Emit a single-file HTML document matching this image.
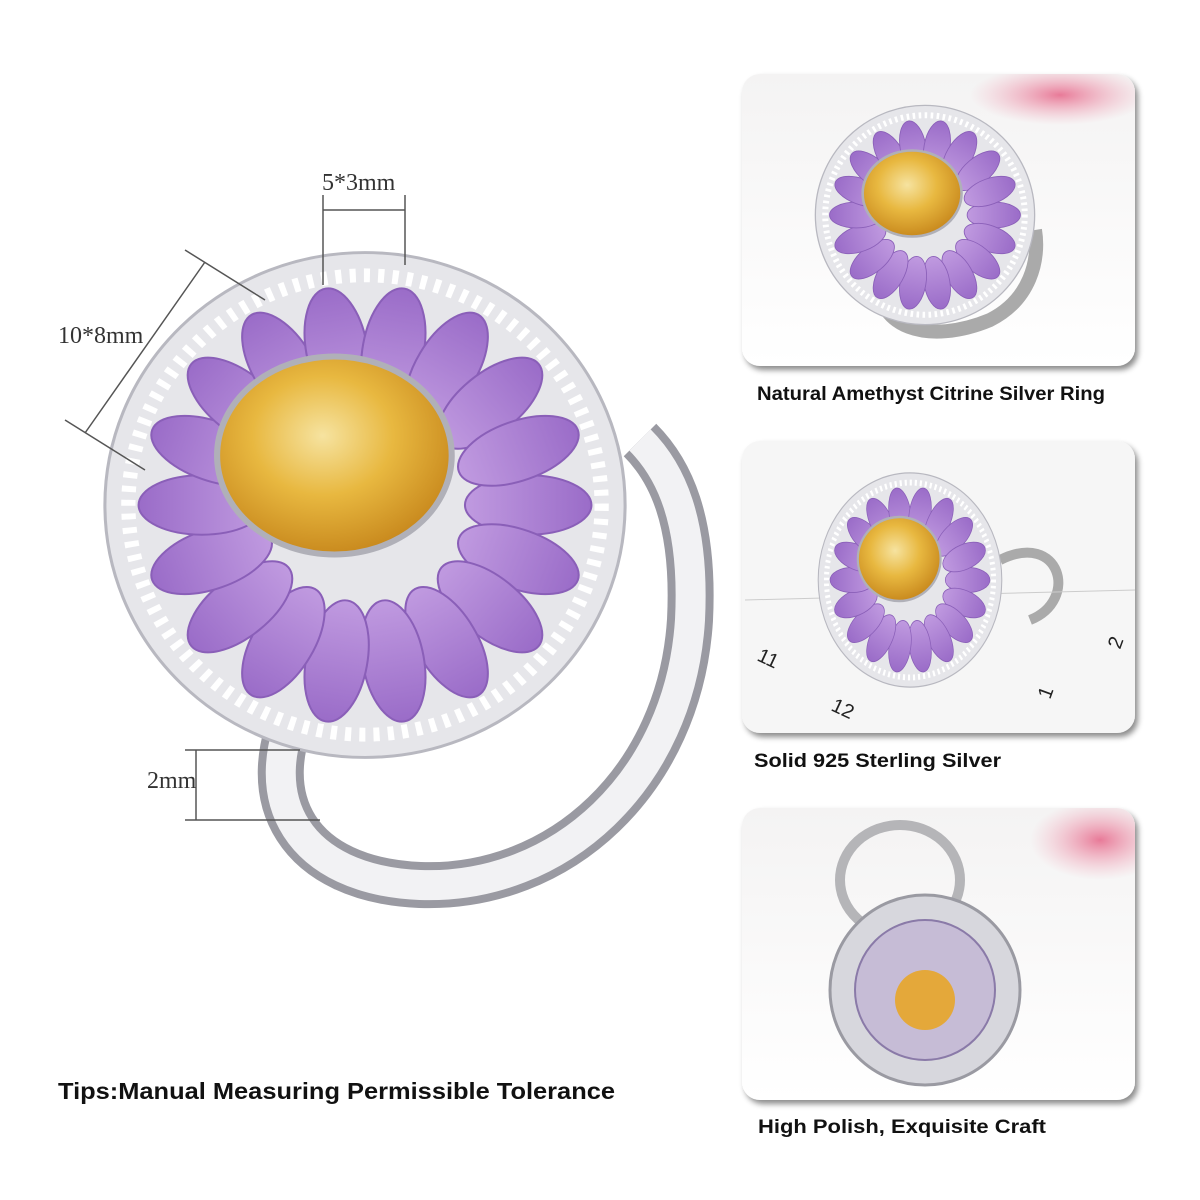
<!DOCTYPE html>
<html><head><meta charset="utf-8"><style>
html,body{margin:0;padding:0;background:#fff;}
svg{display:block;}
text{font-family:"Liberation Sans",sans-serif;}
</style></head><body>
<svg width="1200" height="1200" viewBox="0 0 1200 1200" xmlns="http://www.w3.org/2000/svg">
<defs>
<radialGradient id="cit" cx="45%" cy="40%" r="60%"><stop offset="0" stop-color="#f6e3a0"/><stop offset="0.5" stop-color="#e8b840"/><stop offset="1" stop-color="#c98a1e"/></radialGradient>
<linearGradient id="pet" x1="0" y1="0" x2="1" y2="0"><stop offset="0" stop-color="#c09ae0"/><stop offset="1" stop-color="#9a6cc8"/></linearGradient>
<linearGradient id="pan" x1="0" y1="0" x2="0" y2="1"><stop offset="0" stop-color="#f4f3f3"/><stop offset="1" stop-color="#ffffff"/></linearGradient>
<radialGradient id="pink" cx="50%" cy="50%" r="50%"><stop offset="0" stop-color="#e87a98"/><stop offset="1" stop-color="#f2b0c0" stop-opacity="0"/></radialGradient>
<clipPath id="c1"><rect x="742" y="74" width="393" height="292" rx="18"/></clipPath>
<clipPath id="c3"><rect x="742" y="808" width="393" height="292" rx="18"/></clipPath>
<filter id="sh" x="-5%" y="-5%" width="115%" height="115%"><feDropShadow dx="3" dy="4" stdDeviation="3" flood-color="#000" flood-opacity="0.45"/></filter>
<g id="flower">
  <circle cx="0" cy="0" r="255" fill="#e6e6ea" stroke="#b8b8c0" stroke-width="3"/>
  <circle cx="0" cy="0" r="232" fill="none" stroke="#fff" stroke-width="14" stroke-dasharray="6 8"/>
  <g fill="url(#pet)" stroke="#8a5fb8" stroke-width="2">
    <ellipse cx="160" cy="0" rx="62" ry="30" transform="rotate(0)"/>
    <ellipse cx="160" cy="0" rx="62" ry="30" transform="rotate(20)"/>
    <ellipse cx="160" cy="0" rx="62" ry="30" transform="rotate(40)"/>
    <ellipse cx="160" cy="0" rx="62" ry="30" transform="rotate(60)"/>
    <ellipse cx="160" cy="0" rx="62" ry="30" transform="rotate(80)"/>
    <ellipse cx="160" cy="0" rx="62" ry="30" transform="rotate(100)"/>
    <ellipse cx="160" cy="0" rx="62" ry="30" transform="rotate(120)"/>
    <ellipse cx="160" cy="0" rx="62" ry="30" transform="rotate(140)"/>
    <ellipse cx="160" cy="0" rx="62" ry="30" transform="rotate(160)"/>
    <ellipse cx="160" cy="0" rx="62" ry="30" transform="rotate(180)"/>
    <ellipse cx="160" cy="0" rx="62" ry="30" transform="rotate(200)"/>
    <ellipse cx="160" cy="0" rx="62" ry="30" transform="rotate(220)"/>
    <ellipse cx="160" cy="0" rx="62" ry="30" transform="rotate(240)"/>
    <ellipse cx="160" cy="0" rx="62" ry="30" transform="rotate(260)"/>
    <ellipse cx="160" cy="0" rx="62" ry="30" transform="rotate(280)"/>
    <ellipse cx="160" cy="0" rx="62" ry="30" transform="rotate(300)"/>
    <ellipse cx="160" cy="0" rx="62" ry="30" transform="rotate(320)"/>
    <ellipse cx="160" cy="0" rx="62" ry="30" transform="rotate(340)"/>
  </g>
  <ellipse cx="-30" cy="-50" rx="115" ry="100" fill="url(#cit)" stroke="#b0b0b8" stroke-width="6"/>
</g>
</defs>

<path d="M300 700 C250 800 300 880 420 885 C560 890 680 780 690 620 C695 520 670 470 640 440" fill="none" stroke="#9a9aa2" stroke-width="46"/>
<path d="M300 700 C250 800 300 880 420 885 C560 890 680 780 690 620 C695 520 670 470 640 440" fill="none" stroke="#f2f2f4" stroke-width="30"/>
<use href="#flower" transform="translate(365,505) scale(1.02,0.99)"/>

<g stroke="#555" stroke-width="1.5" fill="none">
  <line x1="323" y1="195" x2="323" y2="285"/><line x1="405" y1="195" x2="405" y2="265"/>
  <line x1="323" y1="210" x2="405" y2="210"/>
  <line x1="185" y1="250" x2="265" y2="300"/><line x1="65" y1="420" x2="145" y2="470"/>
  <line x1="205" y1="262" x2="85" y2="433"/>
  <line x1="185" y1="750" x2="300" y2="750"/><line x1="185" y1="820" x2="320" y2="820"/>
  <line x1="196" y1="750" x2="196" y2="820"/>
</g>
<g font-size="24" fill="#333">
<text x="322" y="190" style="font-family:'Liberation Serif',serif">5*3mm</text>
<text x="58" y="343" style="font-family:'Liberation Serif',serif">10*8mm</text>
<text x="147" y="788" style="font-family:'Liberation Serif',serif">2mm</text>
</g>

<text x="58" y="1099" font-size="23" font-weight="bold" fill="#111" textLength="557" lengthAdjust="spacingAndGlyphs">Tips:Manual Measuring Permissible Tolerance</text>

<g filter="url(#sh)">
<rect x="742" y="74" width="393" height="292" rx="18" fill="url(#pan)"/>
<rect x="742" y="441" width="393" height="292" rx="18" fill="#f6f6f6"/>
<rect x="742" y="808" width="393" height="292" rx="18" fill="url(#pan)"/>
</g>
<ellipse cx="1060" cy="95" rx="90" ry="30" fill="url(#pink)" clip-path="url(#c1)"/>
<ellipse cx="1100" cy="840" rx="70" ry="40" fill="url(#pink)" clip-path="url(#c3)"/>

<path d="M880 270 C870 330 930 345 990 320 C1030 300 1040 260 1035 230" fill="none" stroke="#aaa" stroke-width="14"/>
<use href="#flower" transform="translate(925,215) scale(0.43)"/>
<path d="M1000 560 C1060 530 1080 600 1030 620" fill="none" stroke="#aaa" stroke-width="10"/>
<path d="M745 600 L1135 590" stroke="#ccc" stroke-width="1"/>
<g font-size="20" fill="#222">
<text x="756" y="660" transform="rotate(25 756 660)">11</text>
<text x="830" y="710" transform="rotate(25 830 710)">12</text>
<text x="1050" y="700" transform="rotate(-70 1050 700)">1</text>
<text x="1120" y="650" transform="rotate(-70 1120 650)">2</text>
</g>
<use href="#flower" transform="translate(910,580) scale(0.36,0.42)"/>
<ellipse cx="900" cy="880" rx="60" ry="55" fill="none" stroke="#b5b5b8" stroke-width="10"/>
<circle cx="925" cy="990" r="95" fill="#d7d7dd" stroke="#9a9aa2" stroke-width="3"/>
<circle cx="925" cy="990" r="70" fill="#c6bcd6" stroke="#8a7aa8" stroke-width="2"/>
<circle cx="925" cy="1000" r="30" fill="#e4a83a"/>

<g font-size="19" font-weight="bold" fill="#111">
<text x="757" y="400" textLength="348" lengthAdjust="spacingAndGlyphs">Natural Amethyst Citrine Silver Ring</text>
<text x="754" y="767" textLength="247" lengthAdjust="spacingAndGlyphs">Solid 925 Sterling Silver</text>
<text x="758" y="1133" textLength="288" lengthAdjust="spacingAndGlyphs">High Polish, Exquisite Craft</text>
</g>
</svg>
</body></html>
